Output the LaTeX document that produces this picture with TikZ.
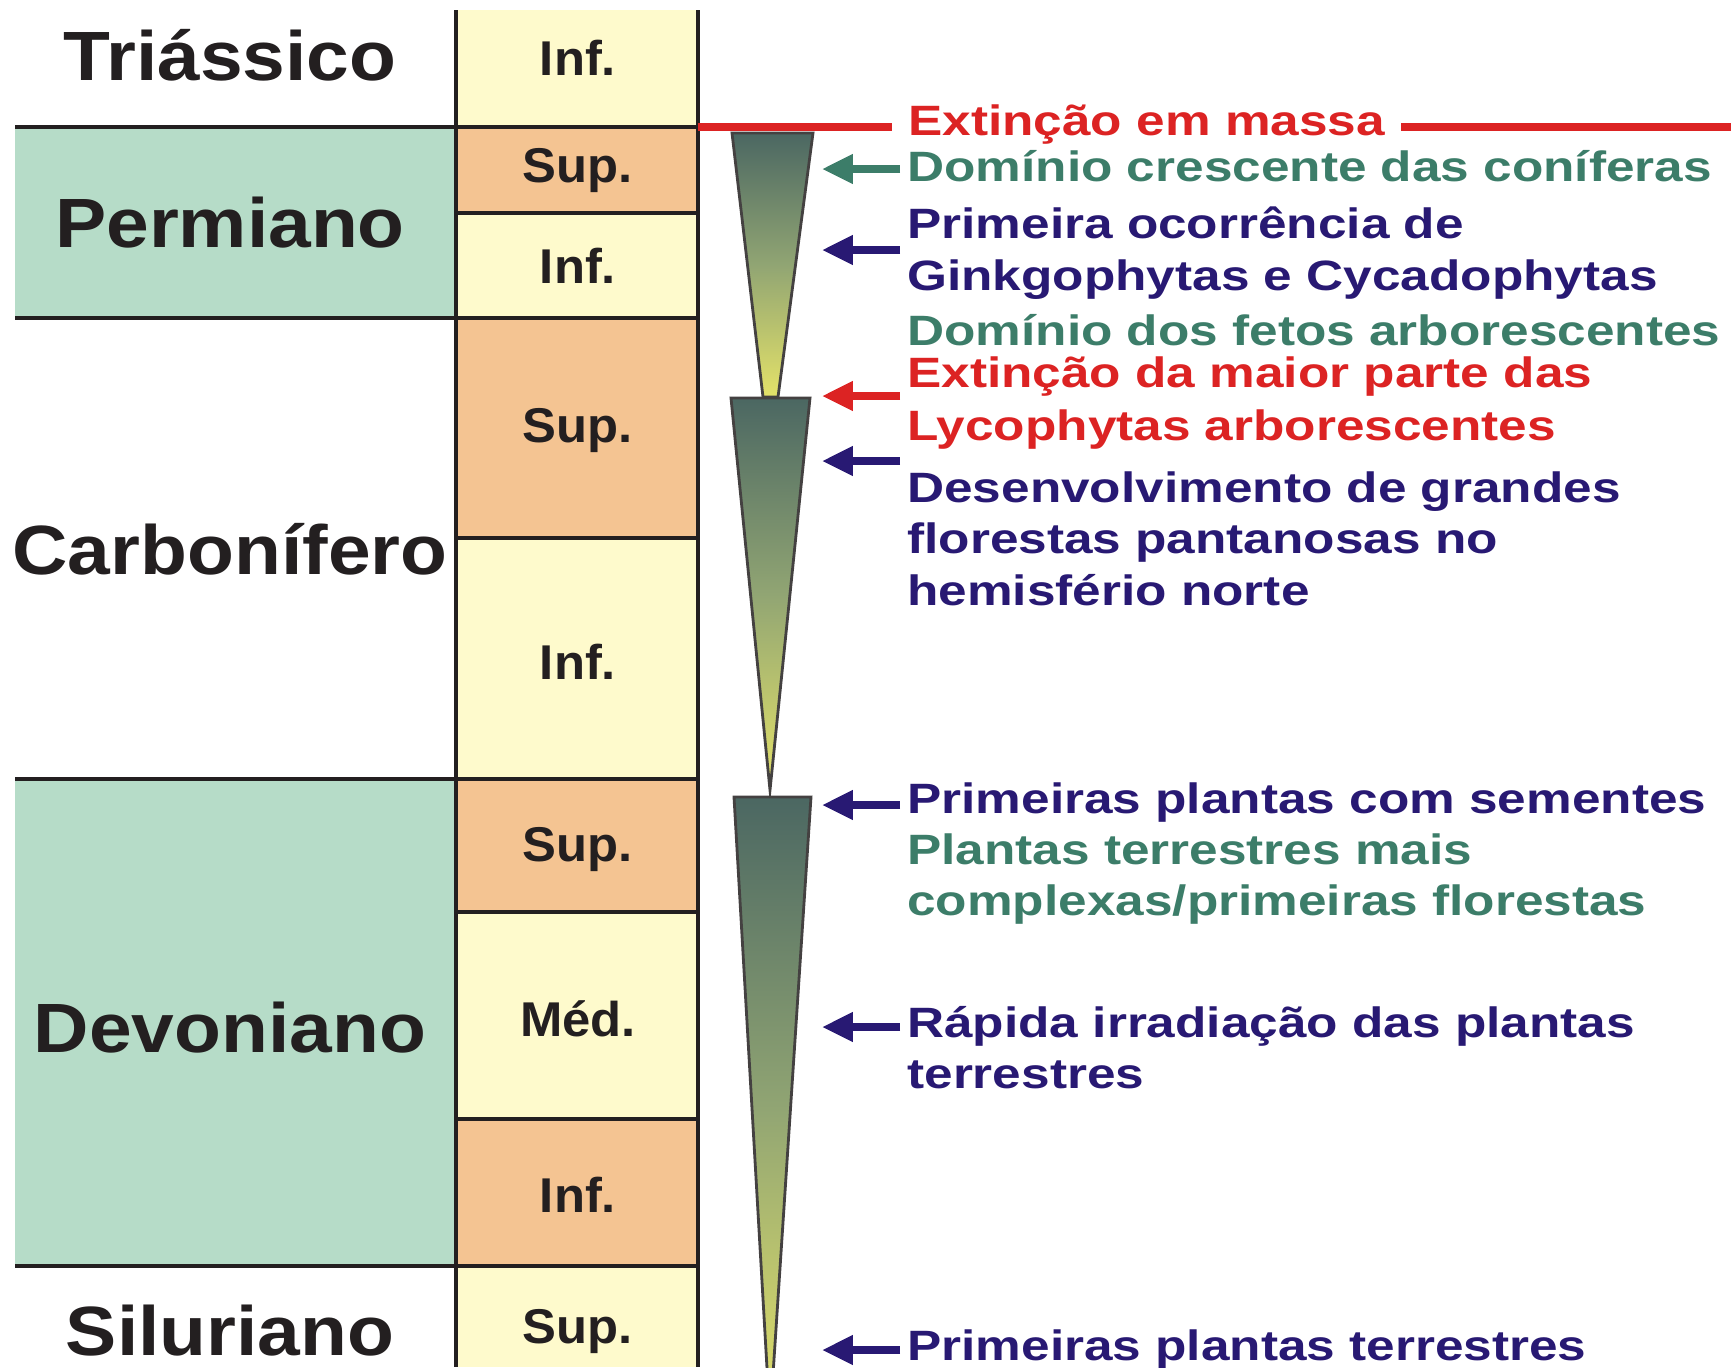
\documentclass[tikz,border=0pt]{standalone}
\usepackage{fontspec}
\setmainfont{Liberation Sans}
\newfontfamily\periodfont{Liberation Sans}[FakeStretch=1.1]
\newfontfamily\stagefont{Liberation Sans}[FakeStretch=1.04]
\newfontfamily\eventfont{Liberation Sans}[FakeStretch=1.21]
\usetikzlibrary{arrows.meta}

\definecolor{mint}{RGB}{182,220,200}
\definecolor{cream}{RGB}{254,250,204}
\definecolor{peach}{RGB}{244,196,146}
\definecolor{redev}{RGB}{220,35,35}
\definecolor{tealev}{RGB}{60,125,105}
\definecolor{navyev}{RGB}{40,25,115}
\definecolor{conetop}{RGB}{75,103,98}
\definecolor{conemid}{RGB}{145,165,115}
\definecolor{conetip}{RGB}{228,226,105}
\definecolor{rulecol}{RGB}{35,31,32}

\tikzset{
  period/.style={font=\periodfont\bfseries\fontsize{39.7pt}{40pt}\selectfont, text=rulecol, anchor=base, inner sep=0pt},
  stage/.style={font=\stagefont\bfseries\fontsize{27.8pt}{28pt}\selectfont, text=rulecol, anchor=base, inner sep=0pt},
  event/.style={font=\eventfont\bfseries\fontsize{24.15pt}{29pt}\selectfont, anchor=base west, inner sep=0pt},
  rowline/.style={draw=rulecol, line width=2.3pt},
  colline/.style={draw=rulecol, line width=2.8pt},
  massline/.style={draw=redev, line width=5.1pt},
  evarrow/.style={line width=4.2pt, -{Triangle[length=17.6pt, width=15.9pt]}},
  cone/.style={draw=rulecol!85, line width=1.6pt, top color=conetop, bottom color=conetip, middle color=conemid},
}

\begin{document}
\begin{tikzpicture}[x=0.02cm,y=-0.02cm]
\useasboundingbox (0,0) rectangle (1731,1367);
\clip (0,0) rectangle (1731,1367);

% periodos
\fill[mint] (15,127) rectangle (456,318);
\fill[mint] (15,779) rectangle (456,1266);

% andares
\fill[cream] (456,10) rectangle (698,127);
\fill[peach] (456,127) rectangle (698,213);
\fill[cream] (456,213) rectangle (698,318);
\fill[peach] (456,318) rectangle (698,538);
\fill[cream] (456,538) rectangle (698,779);
\fill[peach] (456,779) rectangle (698,912);
\fill[cream] (456,912) rectangle (698,1119);
\fill[peach] (456,1119) rectangle (698,1266);
\fill[cream] (456,1266) rectangle (698,1367);

\foreach \y in {127,318,779,1266}
  \draw[rowline] (15,\y) -- (698,\y);
\foreach \y in {213,538,912,1119}
  \draw[rowline] (456,\y) -- (698,\y);
\draw[colline] (456,10) -- (456,1367);
\draw[colline] (698,10) -- (698,1367);

\node[period] (triassico) at (230,80) {Triássico};
\node[period] (permiano) at (230,247) {Permiano};
\node[period] (carbonifero) at (230,574) {Carbonífero};
\node[period] (devoniano) at (230,1052) {Devoniano};
\node[period] (siluriano) at (230,1355) {Siluriano};

\node[stage] (triinf) at (578,75) {Inf.};
\node[stage] (persup) at (578,182) {Sup.};
\node[stage] (perinf) at (578,283) {Inf.};
\node[stage] (carsup) at (578,442) {Sup.};
\node[stage] (carinf) at (578,679) {Inf.};
\node[stage] (devsup) at (578,861) {Sup.};
\node[stage] (devmed) at (578,1036) {Méd.};
\node[stage] (devinf) at (578,1212) {Inf.};
\node[stage] (silsup) at (578,1343) {Sup.};

% cones
\shade[cone] (732,133) -- (813,133) -- (778,397) -- (763,397) -- cycle;
\shade[cone] (731,398) -- (810,398) -- (770,790) -- cycle;
\shade[cone] (734,797) -- (811,797) -- (770,1420) -- cycle;

% extincao
\coordinate (massL) at (698,127);
\coordinate (massR) at (1731,127);
\node[event, text=redev, inner xsep=0.32cm] (mass) at (892,135) {Extinção em massa};
\draw[massline] (massL) -- (mass.west |- massL);
\draw[massline] (mass.east |- massL) -- (massR);

\foreach \y/\c [count=\i] in {169/tealev,250/navyev,396/redev,461/navyev,805/navyev,1027/navyev,1350/navyev} {
  \coordinate (tail\i) at (900,\y);
  \coordinate (tip\i) at (822,\y);
  \draw[evarrow, \c] (tail\i) -- (tip\i);
}

\node[event, text=tealev] (conif) at (907,181) {Domínio crescente das coníferas};
\node[event, text=navyev] (ginkA) at (907,238) {Primeira ocorrência de};
\node[event, text=navyev] (ginkB) at (907,290) {Ginkgophytas e Cycadophytas};
\node[event, text=tealev] (fetos) at (907,345) {Domínio dos fetos arborescentes};
\node[event, text=redev] (lycoA) at (907,387) {Extinção da maior parte das};
\node[event, text=redev] (lycoB) at (907,440) {Lycophytas arborescentes};
\node[event, text=navyev] (florA) at (907,502) {Desenvolvimento de grandes};
\node[event, text=navyev] (florB) at (907,553) {florestas pantanosas no};
\node[event, text=navyev] (florC) at (907,605) {hemisfério norte};
\node[event, text=navyev] (sement) at (907,813) {Primeiras plantas com sementes};
\node[event, text=tealev] (complA) at (907,864) {Plantas terrestres mais};
\node[event, text=tealev] (complB) at (907,915) {complexas/primeiras florestas};
\node[event, text=navyev] (irradA) at (907,1037) {Rápida irradiação das plantas};
\node[event, text=navyev] (irradB) at (907,1088) {terrestres};
\node[event, text=navyev] (terr) at (907,1360) {Primeiras plantas terrestres};

\end{tikzpicture}
\end{document}
